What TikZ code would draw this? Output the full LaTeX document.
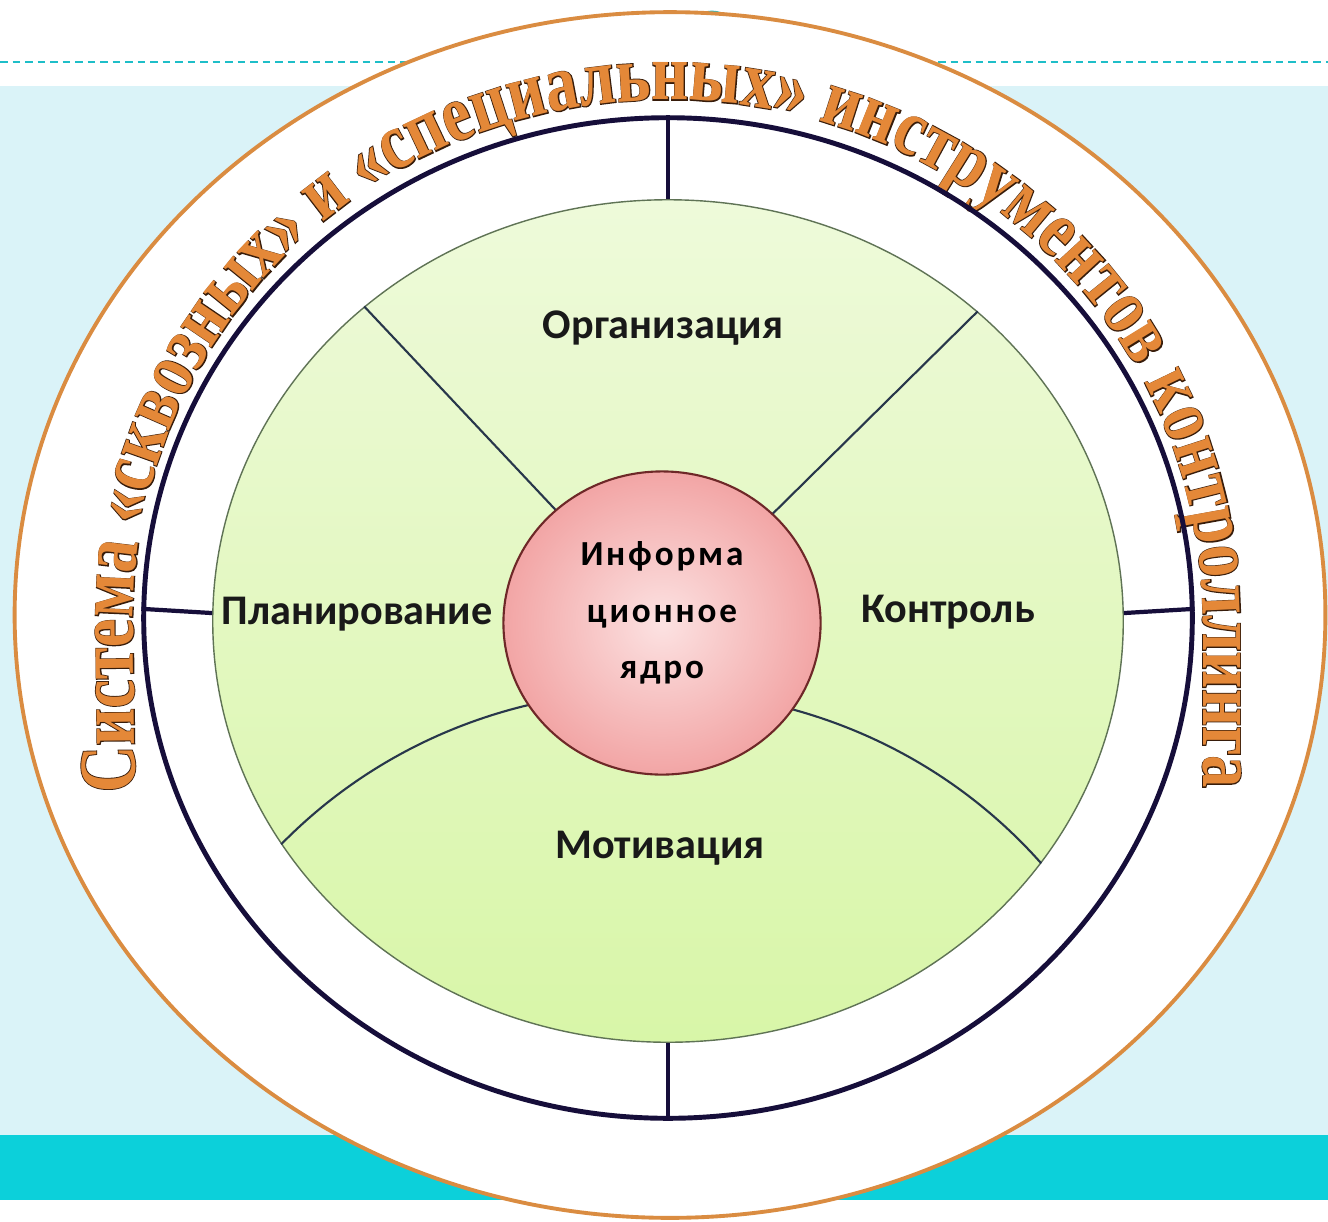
\documentclass[tikz,border=0pt]{standalone}
\usepackage{fontspec}
\usetikzlibrary{shapes.geometric,decorations.text}
\setmainfont{Carlito}
\newfontfamily\ringfont{Liberation Serif}[UprightFont=* Bold,FakeStretch=0.8]
\newfontfamily\ringedgefont{Liberation Serif}[UprightFont=* Bold,FakeStretch=0.8,FakeBold=2]
\newfontfamily\corefont{Carlito}[LetterSpace=8]

\definecolor{bgcyan}{RGB}{218,243,248}
\definecolor{bandteal}{RGB}{12,208,218}
\definecolor{dashteal}{RGB}{30,190,200}
\definecolor{rimorange}{RGB}{218,140,65}
\definecolor{ringnavy}{RGB}{22,14,58}
\definecolor{textorange}{RGB}{228,136,56}
\definecolor{textbrown}{RGB}{55,28,10}
\definecolor{greentop}{RGB}{238,250,218}
\definecolor{greenbottom}{RGB}{216,246,168}
\definecolor{greenrim}{RGB}{95,115,85}
\definecolor{spokeslate}{RGB}{40,55,75}
\definecolor{coreinner}{RGB}{252,226,226}
\definecolor{coreouter}{RGB}{242,165,165}
\definecolor{corerim}{RGB}{110,40,40}

\begin{document}
\begin{tikzpicture}[x=0.01cm, y=0.01cm,
        rim/.style={ellipse, inner sep=0pt},
        tick/.style={ringnavy, line width=1.2pt},
        spoke/.style={spokeslate, line width=0.6pt},
        sector/.style={font=\bfseries\fontsize{12}{14}\selectfont, text=black!90}]
    \useasboundingbox (0,0) rectangle (1328,-1221);
    \fill[bgcyan] (0,-86) rectangle (1328,-1135);
    \fill[bandteal] (0,-1135) rectangle (1328,-1200);
    \draw[dashteal, line width=0.8pt, dash pattern=on 0.075cm off 0.05cm] (0,-62) -- (1328,-62);
    \draw[dashteal, line width=0.8pt] (712,-36) circle[radius=24];

    \node[rim, draw=rimorange, fill=white, line width=1.1pt, minimum width=13.1cm, minimum height=12.05cm] (outer) at (670,-615) {};
    \path[decorate, decoration={text along path, text align=fit to path,
            text={|\ringedgefont\fontsize{23}{26}\selectfont\color{textbrown}|Система «сквозных» и «специальных» инструментов контроллинга}}]
        (135,-792) -- (133,-620) arc[start angle=180, end angle=0, x radius=535, y radius=520] -- (1203,-786);
    \path[decorate, decoration={text along path, text align=fit to path,
            text={|\ringfont\fontsize{23}{26}\selectfont\color{textorange}|Система «сквозных» и «специальных» инструментов контроллинга}}]
        (135,-792) -- (133,-620) arc[start angle=180, end angle=0, x radius=535, y radius=520] -- (1203,-786);

    \node[rim, draw=ringnavy, line width=1.4pt, minimum width=10.48cm, minimum height=10cm] (frame) at (668,-618) {};
    \node[rim, draw=greenrim, line width=0.4pt, top color=greentop, bottom color=greenbottom,
        minimum width=9.1cm, minimum height=8.42cm] (field) at (668,-621) {};
    \draw[tick] (frame.north) -- (field.north);
    \draw[tick] (frame.south) -- (field.south);
    \draw[tick] (frame.179) -- (field.179);
    \draw[tick] (frame.1) -- (field.1);

    \coordinate (hub) at (662,-623);
    \draw[spoke] (hub) -- (field.134);
    \draw[spoke] (hub) -- (field.45);
    \draw[spoke] (field.210) to[bend left=47] (field.-33);

    \node[rim, draw=corerim, line width=0.6pt, inner color=coreinner, outer color=coreouter,
        minimum width=3.17cm, minimum height=3.03cm, align=center, text depth=0.26cm,
        font=\corefont\bfseries\fontsize{10}{16}\selectfont] (core) at (hub) {Информа\\ционное\\ядро};

    \node[sector] (org) at (663,-328) {Организация};
    \node[sector] (plan) at (357,-614) {Планирование};
    \node[sector] (ctrl) at (948,-612) {Контроль};
    \node[sector] (motiv) at (660,-848) {Мотивация};
\end{tikzpicture}
\end{document}
